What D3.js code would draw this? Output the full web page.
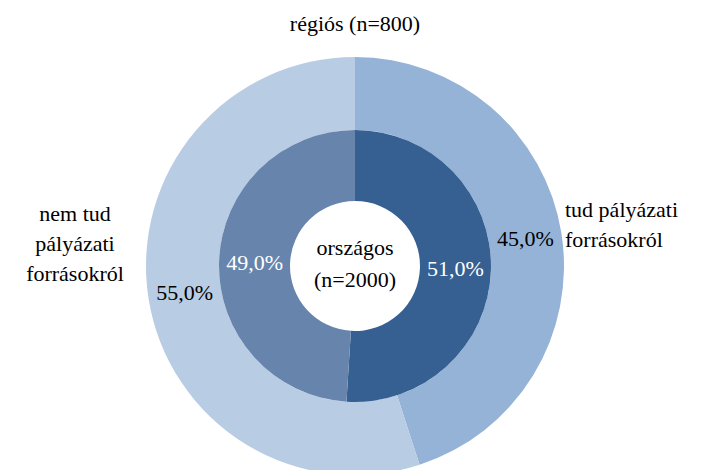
<!DOCTYPE html>
<html>
<head>
<meta charset="utf-8">
<script src="https://cdn.jsdelivr.net/npm/d3@7"></script>
</head>
<body style="margin:0">
<script>
var categories = ['tud pályázati forrásokról', 'nem tud pályázati forrásokról'];
var orszagos = [51.0, 49.0];   // inner ring, n=2000
var regios = [45.0, 55.0];     // outer ring, n=800
var innerColors = ['#366092', '#6784AC'];
var outerColors = ['#95B3D7', '#B8CCE4'];

var w = 709, h = 470,
    cx = 355, cy = 266,
    rHole = 65, rMid = 136, rOut = 209;

var svg = d3.select('body').append('svg')
    .attr('width', w)
    .attr('height', h);

var pie = d3.pie().sort(null).value(function(d){ return d; });

var g = svg.append('g').attr('transform', 'translate(' + cx + ',' + cy + ')');

function label(sel){
    return sel.attr('font-family', 'serif').attr('font-size', 22);
}

function ring(values, r0, r1, colors, labelColor){
    var arc = d3.arc().innerRadius(r0).outerRadius(r1);
    var arcs = pie(values);
    g.selectAll(null)
        .data(arcs)
        .enter()
        .append('path')
        .attr('d', arc)
        .attr('fill', function(d, i){ return colors[i]; });
    g.selectAll(null)
        .data(arcs)
        .enter()
        .append('text')
        .call(label)
        .attr('x', function(d){ return arc.centroid(d)[0]; })
        .attr('y', function(d){ return arc.centroid(d)[1] + 7; })
        .attr('text-anchor', 'middle')
        .attr('fill', labelColor)
        .text(function(d){ return d.data.toFixed(1).replace('.', ',') + '%'; });
}

ring(regios, rMid, rOut, outerColors, '#000');
ring(orszagos, rHole, rMid, innerColors, '#fff');

// title
svg.append('text').call(label)
    .attr('x', cx).attr('y', 31)
    .attr('text-anchor', 'middle')
    .text('régiós (n=800)');

// center label
g.append('text').call(label)
    .attr('x', 0).attr('y', -11)
    .attr('text-anchor', 'middle')
    .text('országos');
g.append('text').call(label)
    .attr('x', 0).attr('y', 21)
    .attr('text-anchor', 'middle')
    .text('(n=2000)');

// category labels
var rightLines = ['tud pályázati', 'forrásokról'];
var leftLines = ['nem tud', 'pályázati', 'forrásokról'];

svg.selectAll(null)
    .data(rightLines)
    .enter()
    .append('text')
    .call(label)
    .attr('x', cx + rOut + 1)
    .attr('y', function(d, i){ return 217 + i * 30; })
    .text(function(d){ return d; });

svg.selectAll(null)
    .data(leftLines)
    .enter()
    .append('text')
    .call(label)
    .attr('x', 75)
    .attr('y', function(d, i){ return 221 + i * 30; })
    .attr('text-anchor', 'middle')
    .text(function(d){ return d; });
</script>
</body>
</html>
